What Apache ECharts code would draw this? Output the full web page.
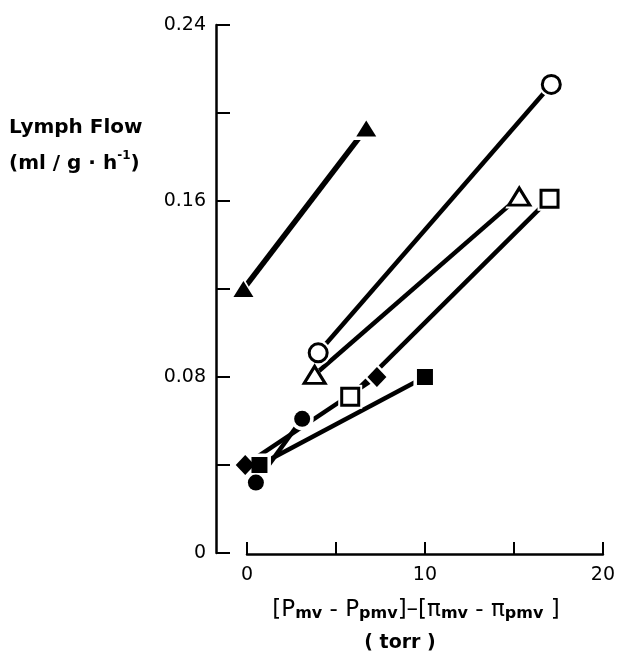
<!DOCTYPE html>
<html>
<head>
<meta charset="utf-8">
<script src="https://cdn.jsdelivr.net/npm/echarts@6/dist/echarts.min.js"></script>
<style>
	html, body { margin: 0; padding: 0; background: #fff; }
	#chart { width: 618px; height: 657px; }
</style>
</head>
<body>
<div id="chart"></div>
<script>
	// values: x = pressure difference (torr), y = lymph flow
	const triFilledX = [-0.2, 6.7];
	const triFilledY = [0.120, 0.193];
	const circleOpenX = [4.0, 17.1];
	const circleOpenY = [0.091, 0.213];
	const triOpenX = [3.8, 15.3];
	const triOpenY = [0.081, 0.162];
	const squareOpenX = [5.8, 17.0];
	const squareOpenY = [0.071, 0.161];
	const diamondX = [-0.1, 7.3];
	const diamondY = [0.040, 0.080];
	const squareFilledX = [0.7, 10.0];
	const squareFilledY = [0.040, 0.080];
	const circleFilledX = [0.5, 3.1];
	const circleFilledY = [0.032, 0.061];

	const xTickLabels = ['0', '10', '20'];
	const yTickLabels = ['0', '0.08', '0.16', '0.24'];

	const groups = [
		{ name: 'triFilled', x: triFilledX, y: triFilledY, symbol: 'triangle', size: [20, 16], open: false, width: 5.5 },
		{ name: 'circleOpen', x: circleOpenX, y: circleOpenY, symbol: 'circle', size: 18, open: true, width: 4.5 },
		{ name: 'triOpen', x: triOpenX, y: triOpenY, symbol: 'triangle', size: [21, 17], open: true, width: 4.5 },
		{ name: 'squareOpen', x: squareOpenX, y: squareOpenY, symbol: 'rect', size: 17, open: true, width: 4.5 },
		{ name: 'diamond', x: diamondX, y: diamondY, symbol: 'diamond', size: [19, 20], open: false, width: 4.5 },
		{ name: 'squareFilled', x: squareFilledX, y: squareFilledY, symbol: 'rect', size: 16, open: false, width: 4.5 },
		{ name: 'circleFilled', x: circleFilledX, y: circleFilledY, symbol: 'circle', size: 16, open: false, width: 4.5 }
	];

	function pairs(g) {
		return g.x.map((v, i) => [v, g.y[i]]);
	}
	function grow(s, d) {
		return Array.isArray(s) ? [s[0] + d, s[1] + d] : s + d;
	}

	const series = [];
	groups.forEach(g => {
		series.push({
			name: g.name + '-line',
			type: 'line',
			data: pairs(g),
			showSymbol: false,
			clip: false,
			silent: true,
			z: 1,
			lineStyle: { color: '#000', width: g.width }
		});
	});
	// white halo so lines break around the markers
	groups.forEach(g => {
		series.push({
			name: g.name + '-halo',
			type: 'scatter',
			data: pairs(g),
			symbol: g.symbol,
			symbolSize: grow(g.size, 7),
			clip: false,
			silent: true,
			z: 2,
			itemStyle: { color: '#fff', opacity: 1 }
		});
	});
	groups.forEach(g => {
		series.push({
			name: g.name,
			type: 'scatter',
			data: pairs(g),
			symbol: g.symbol,
			symbolSize: g.size,
			clip: false,
			z: 3,
			itemStyle: g.open
				? { color: '#fff', borderColor: '#000', borderWidth: 3, opacity: 1 }
				: { color: '#000', opacity: 1 }
		});
	});

	const chart = echarts.init(document.getElementById('chart'), null, { renderer: 'canvas' });
	const font = 'DejaVu Sans';

	chart.setOption({
		backgroundColor: '#fff',
		animation: false,
		grid: { left: 247, right: 11, top: 25, bottom: 104 },
		xAxis: {
			type: 'value',
			min: 0,
			max: 20,
			interval: 5,
			offset: 1,
			axisLine: { onZero: false, lineStyle: { color: '#000', width: 2.5 } },
			axisTick: { inside: true, length: 12, lineStyle: { color: '#000', width: 2 } },
			splitLine: { show: false },
			axisLabel: {
				margin: 12,
				color: '#000',
				fontFamily: font,
				fontSize: 19,
				formatter: v => xTickLabels.indexOf(String(v)) >= 0 ? String(v) : ''
			}
		},
		yAxis: {
			type: 'value',
			min: 0,
			max: 0.24,
			interval: 0.04,
			offset: 31,
			axisLine: { show: true, onZero: false, lineStyle: { color: '#000', width: 2.5 } },
			axisTick: { show: true, inside: true, length: 14, lineStyle: { color: '#000', width: 2 } },
			splitLine: { show: false },
			axisLabel: {
				margin: 10,
				color: '#000',
				fontFamily: font,
				fontSize: 19,
				formatter: v => {
					const s = v === 0 ? '0' : v.toFixed(2);
					return yTickLabels.indexOf(s) >= 0 ? s : '';
				}
			}
		},
		graphic: [
			{
				type: 'text',
				left: 9,
				top: 118,
				style: { text: 'Lymph Flow', font: 'bold 20px "DejaVu Sans"', fill: '#000' }
			},
			{
				type: 'text',
				left: 9,
				top: 150,
				style: {
					text: '{a|(ml / g · h}{s|-1}{a|)}',
					fill: '#000',
					rich: {
						a: { fontFamily: font, fontWeight: 'bold', fontSize: 20, lineHeight: 24, verticalAlign: 'bottom' },
						s: { fontFamily: font, fontWeight: 'bold', fontSize: 12, lineHeight: 24, verticalAlign: 'top', padding: [0, 0, 10, 0] }
					}
				}
			},
			{
				type: 'text',
				x: 416,
				y: 608,
				style: {
					text: '{a|[P}{s|mv}{a| - P}{s|pmv}{a|]–[π}{s|mv}{a| - π}{s|pmv}{a| ]}',
					fill: '#000',
					align: 'center',
					verticalAlign: 'middle',
					rich: {
						a: { fontFamily: font, fontSize: 23, lineHeight: 28, verticalAlign: 'bottom' },
						s: { fontFamily: font, fontWeight: 'bold', fontSize: 16, lineHeight: 18, verticalAlign: 'bottom' }
					}
				}
			},
			{
				type: 'text',
				x: 400,
				y: 643,
				style: {
					text: '( torr )',
					font: 'bold 19px "DejaVu Sans"',
					fill: '#000',
					align: 'center',
					verticalAlign: 'middle'
				}
			}
		],
		series: series
	});
</script>
</body>
</html>
